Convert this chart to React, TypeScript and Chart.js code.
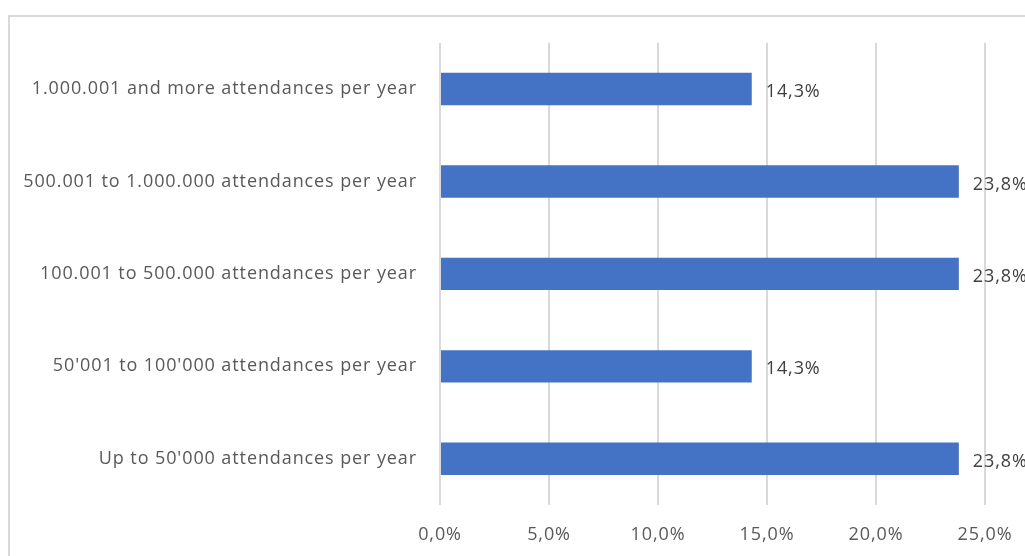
import React, { useEffect, useRef } from "react";
import { Chart, registerables } from "chart.js";

Chart.register(...registerables);

const categories = [
  "1.000.001 and more attendances per year",
  "500.001 to 1.000.000 attendances per year",
  "100.001 to 500.000 attendances per year",
  "50'001 to 100'000 attendances per year",
  "Up to 50'000 attendances per year",
];
const values = [14.3, 23.8, 23.8, 14.3, 23.8];
const tickValues = [0, 5, 10, 15, 20, 25];

const FONT = "'Open Sans', sans-serif";

const fmt = (v: number) => v.toFixed(1).replace(".", ",") + "%";

const spacingPlugin = {
  id: "spacing",
  beforeDraw(chart: any) {
    (chart.ctx as any).letterSpacing = "0.9px";
  },
};

const labelPlugin = {
  id: "barLabels",
  afterDatasetsDraw(chart: any) {
    const ctx = chart.ctx;
    const meta = chart.getDatasetMeta(0);
    ctx.save();
    ctx.font = `18px ${FONT}`;
    ctx.fillStyle = "#404040";
    ctx.textAlign = "left";
    ctx.textBaseline = "middle";
    meta.data.forEach((bar: any, i: number) => {
      ctx.fillText(fmt(values[i]), bar.x + 14, bar.y + 3);
    });
    ctx.restore();
  },
};

export default function App() {
  const ref = useRef<HTMLCanvasElement>(null);
  useEffect(() => {
    if (!ref.current) return;
    const chart = new Chart(ref.current, {
      type: "bar",
      data: {
        labels: categories,
        datasets: [
          {
            data: values,
            backgroundColor: "#4472C4",
            borderWidth: 0,
            barPercentage: 0.35,
            categoryPercentage: 1,
          },
        ],
      },
      options: {
        indexAxis: "y",
        animation: false,
        responsive: false,
        maintainAspectRatio: false,
        layout: { padding: { top: 19, right: 125, bottom: 0, left: 0 } },
        plugins: { legend: { display: false }, tooltip: { enabled: false } },
        scales: {
          x: {
            min: 0,
            max: 25,
            afterBuildTicks: (scale: any) => {
              scale.ticks = tickValues.map((v) => ({ value: v }));
            },
            afterFit: (scale: any) => {
              scale.height = 112;
            },
            grid: { color: "#d9d9d9", lineWidth: 2, drawTicks: false },
            border: { display: false },
            ticks: {
              padding: 19,
              color: "#595959",
              font: { family: FONT, size: 18 },
              callback: (v: any) => fmt(Number(v)),
            },
          },
          y: {
            afterFit: (scale: any) => {
              scale.width = 430;
            },
            grid: { display: false },
            border: { display: false },
            ticks: {
              padding: 15,
              color: "#595959",
              font: { family: FONT, size: 18 },
            },
          },
        },
      },
      plugins: [spacingPlugin, labelPlugin],
    });
    return () => chart.destroy();
  }, []);

  return (
    <div style={{ position: "fixed", left: 0, top: 0, width: 1025, height: 556, overflow: "hidden", background: "#fff" }}>
      <div
        style={{
          position: "absolute",
          left: 8,
          top: 15,
          width: 1100,
          height: 600,
          border: "2px solid #d9d9d9",
        }}
      >
        <canvas ref={ref} width={1100} height={600} style={{ display: "block" }} />
      </div>
    </div>
  );
}
